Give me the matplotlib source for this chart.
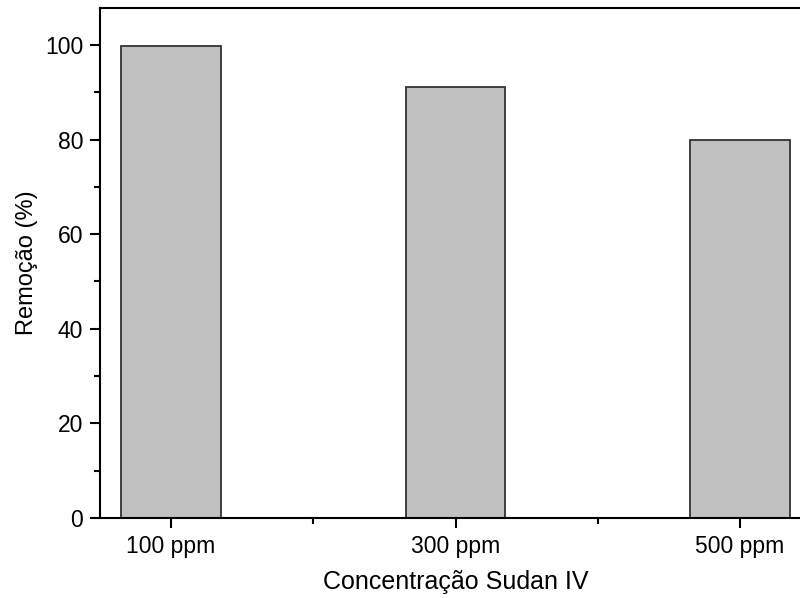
import matplotlib
matplotlib.use('Agg')
import matplotlib.pyplot as plt
from matplotlib.ticker import MultipleLocator, FixedLocator

plt.rcParams['font.family'] = ['Liberation Sans', 'DejaVu Sans']

categories = ['100 ppm', '300 ppm', '500 ppm']
remocao = [99.8, 91.2, 79.8]

fig = plt.figure(figsize=(8, 5.98), dpi=100)
# axes run past the right edge, as in the original (right spine cut off)
ax = fig.add_axes([0.125, 0.1338, 0.889, 0.8528])

x = list(range(len(categories)))
ax.bar(x, remocao, width=0.35, color='#c0c0c0', edgecolor='#333333', linewidth=1.3)

ax.set_xlim(-0.25, 2.25)
ax.set_ylim(0, 107.8)
ax.set_xticks(x)
ax.set_xticklabels(categories)
ax.xaxis.set_minor_locator(FixedLocator([0.5, 1.5]))
ax.yaxis.set_major_locator(MultipleLocator(20))
ax.yaxis.set_minor_locator(MultipleLocator(10))

ax.tick_params(which='major', direction='out', length=7, width=1.5, labelsize=16.5, pad=5)
ax.tick_params(which='minor', direction='out', length=4, width=1.5)
for s in ax.spines.values():
    s.set_linewidth(1.5)

ax.set_xlabel('Concentração Sudan IV', fontsize=18, labelpad=9)
ax.set_ylabel('Remoção (%)', fontsize=17, labelpad=5)

fig.savefig('out.png', dpi=100)
